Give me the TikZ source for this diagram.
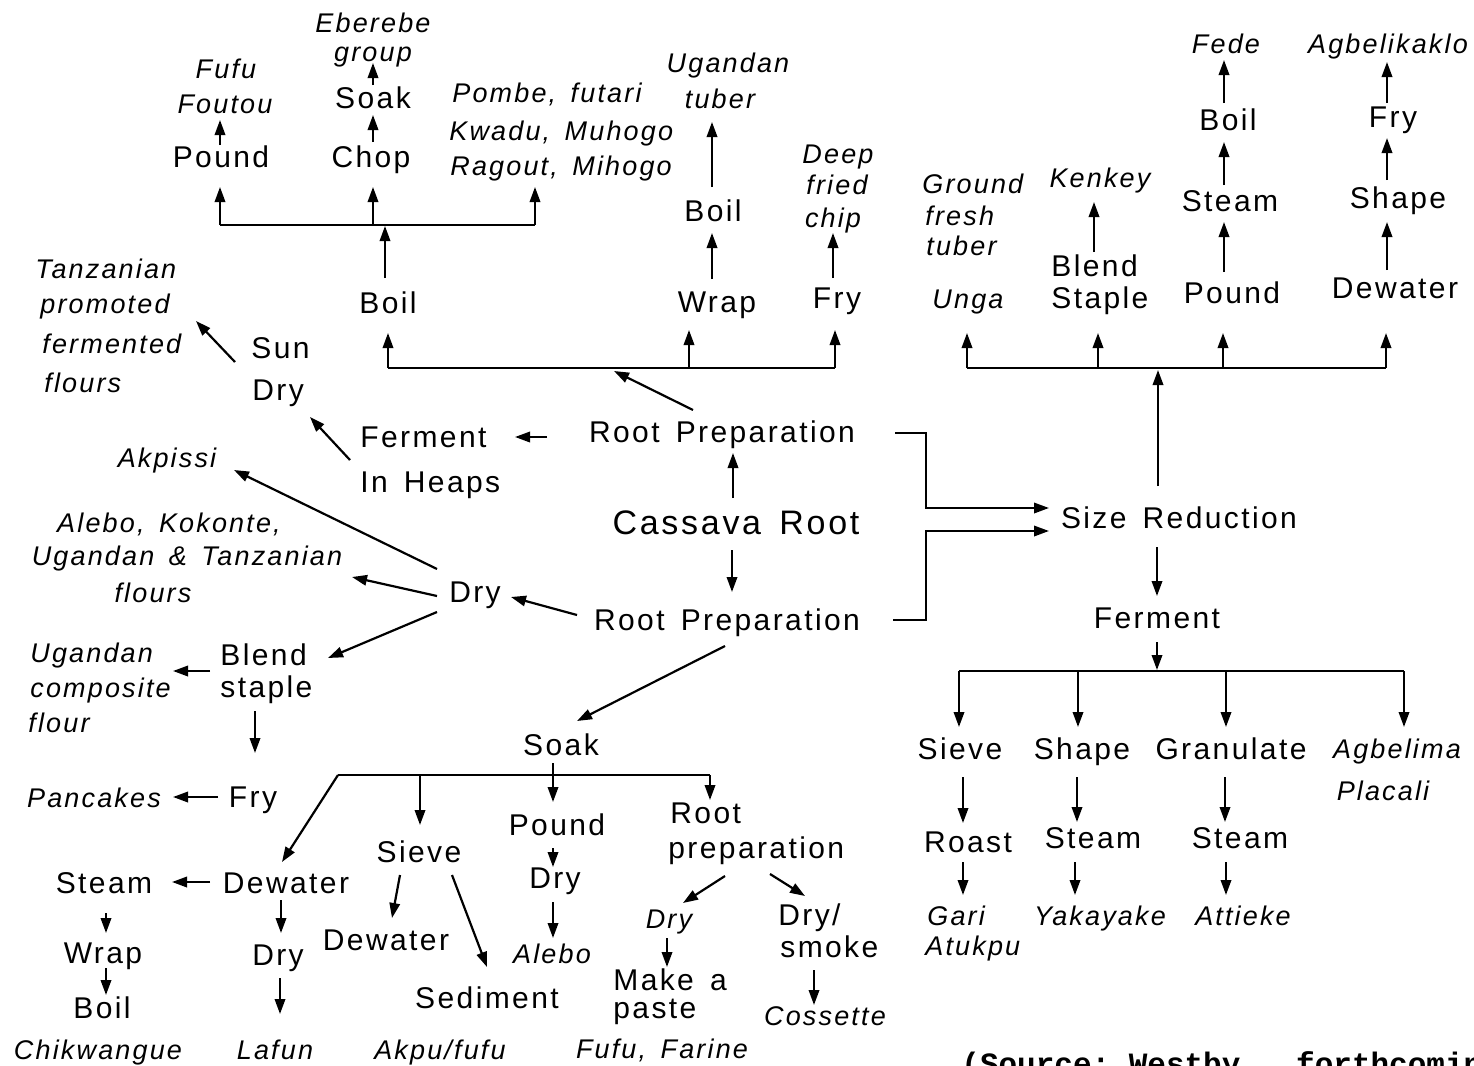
\documentclass[tikz,border=0pt]{standalone}
\usepackage{fontspec}
\setmainfont{Liberation Sans}[LetterSpace=8,WordSpace=1.5]
\newfontfamily\srcfont{Liberation Mono}
\usetikzlibrary{arrows.meta,calc}
\begin{document}
\begin{tikzpicture}[x=0.5pt,y=-0.5pt,
  up/.style={inner sep=0pt,anchor=base,font=\fontsize{15}{18}\selectfont},
  upl/.style={up,anchor=base west},
  itx/.style={inner sep=0pt,anchor=base,font=\fontsize{13.5}{16}\selectfont\itshape},
  itxl/.style={itx,anchor=base west},
  arr/.style={line width=1.1pt,-{Triangle[length=7.5pt,width=5.2pt]}},
  hbar/.style={line width=0.9pt}]
\fill[white] (0,0) rectangle (1474,1066);
\useasboundingbox (0,0) rectangle (1474,1066);

% ---------- top left ----------
\node[itx] (eb1) at (373,32) {Eberebe};
\node[itx] (eb2) at (373,61) {group};
\node[itx] (fufu1) at (226,78) {Fufu};
\node[itx] (fufu2) at (225,113) {Foutou};
\node[up] (soakT) at (373,108) {Soak};
\node[up] (chop) at (371,167) {Chop};
\node[up] (poundT) at (221,167) {Pound};
\node[itxl] (pombe1) at (452,102) {Pombe, futari};
\node[itxl] (pombe2) at (449,140) {Kwadu, Muhogo};
\node[itxl] (pombe3) at (450,175) {Ragout, Mihogo};
\node[up] (boilT) at (388,313) {Boil};
\node[itx] (ug1) at (728,72) {Ugandan};
\node[itx] (ug2) at (720,108) {tuber};
\node[up] (boilW) at (713,221) {Boil};
\node[up] (wrap) at (717,312) {Wrap};
\node[itx] (deep1) at (838,163) {Deep};
\node[itx] (deep2) at (837,194) {fried};
\node[itx] (deep3) at (833,227) {chip};
\node[up] (fryT) at (837,308) {Fry};

\draw[arr] ($(poundT.base)+(-1,-22)$) -- ($(fufu2.base)+(-5,7)$);
\draw[arr] ($(chop.base)+(2,-25)$) -- ($(soakT.base)+(0,7)$);
\draw[arr] ($(soakT.base)+(0,-23)$) -- ($(eb2.base)+(0,2)$);
\draw[hbar] ($(poundT.base)+(-1,58)$) -- ($(pombe3.base west)+(85,50)$);
\draw[arr] ($(poundT.base)+(-1,58)$) -- ($(poundT.base)+(-1,20)$);
\draw[arr] ($(chop.base)+(2,58)$) -- ($(chop.base)+(2,20)$);
\draw[arr] ($(pombe3.base west)+(85,50)$) -- ($(pombe3.base west)+(85,12)$);
\draw[arr] ($(boilT.base)+(-3,-35)$) -- ($(boilT.base)+(-3,-87)$);
\draw[hbar] ($(boilT.base)+(0,55)$) -- ($(fryT.base)+(-2,60)$);
\draw[arr] ($(boilT.base)+(0,55)$) -- ($(boilT.base)+(0,20)$);
\draw[arr] ($(wrap.base)+(-28,56)$) -- ($(wrap.base)+(-28,18)$);
\draw[arr] ($(fryT.base)+(-2,60)$) -- ($(fryT.base)+(-2,22)$);
\draw[arr] ($(boilW.base)+(-1,-34)$) -- ($(ug2.base)+(-8,14)$);
\draw[arr] ($(wrap.base)+(-5,-33)$) -- ($(boilW.base)+(-1,12)$);
\draw[arr] ($(fryT.base)+(-4,-30)$) -- ($(deep3.base)+(0,6)$);

% ---------- centre ----------
\node[up] (rpt) at (722,442) {Root Preparation};
\node[inner sep=0pt,anchor=base,font=\fontsize{17}{20}\selectfont] (cass) at (736,534) {Cassava Root};
\node[up] (rpb) at (727,630) {Root Preparation};
\draw[arr] ($(cass.base)+(-3,-36)$) -- ($(rpt.base)+(11,11)$);
\draw[arr] ($(cass.base)+(-4,16)$) -- ($(rpb.base)+(5,-38)$);
\draw[arr] ($(rpt.base)+(-29,-32)$) -- ($(rpt.base)+(-108,-71)$);

% ---------- left ----------
\node[itxl] (tz1) at (35,278) {Tanzanian};
\node[itxl] (tz2) at (40,313) {promoted};
\node[itxl] (tz3) at (42,353) {fermented};
\node[itxl] (tz4) at (44,392) {flours};
\node[upl] (sun) at (251,358) {Sun};
\node[upl] (sunDry) at (252,400) {Dry};
\node[upl] (ferm) at (360,447) {Ferment};
\node[upl] (heaps) at (360,492) {In Heaps};
\node[itx] (akp) at (167,467) {Akpissi};
\node[itx] (alebo1) at (169,532) {Alebo, Kokonte,};
\node[itx] (alebo2) at (187,565) {Ugandan \& Tanzanian};
\node[itx] (alebo3) at (153,602) {flours};
\node[up] (dryM) at (475,602) {Dry};
\node[upl] (blend) at (220,665) {Blend};
\node[upl] (staple) at (220,697) {staple};
\node[itxl] (ugc1) at (30,662) {Ugandan};
\node[itxl] (ugc2) at (30,697) {composite};
\node[itxl] (ugc3) at (28,732) {flour};
\node[up] (fryL) at (253,807) {Fry};
\node[itx] (panc) at (94,807) {Pancakes};

\draw[arr] ($(sun.base west)+(-16,4)$) -- ($(tz3.base west)+(154,-32)$);
\draw[arr] ($(ferm.base west)+(-10,13)$) -- ($(sunDry.base west)+(58,17)$);
\draw[arr] ($(rpt.base)+(-175,-5)$) -- ($(ferm.base west)+(155,-10)$);
\draw[arr] ($(dryM.base)+(-38,-33)$) -- ($(akp.base)+(67,3)$);
\draw[arr] ($(dryM.base)+(-38,-6)$) -- ($(alebo2.base)+(165,12)$);
\draw[arr] ($(dryM.base)+(-38,10)$) -- ($(blend.base west)+(108,-7)$);
\draw[arr] ($(rpb.base)+(-150,-15)$) -- ($(dryM.base)+(36,-5)$);
\draw[arr] ($(blend.base west)+(-10,6)$) -- ($(ugc2.base west)+(143,-26)$);
\draw[arr] ($(staple.base west)+(35,14)$) -- ($(fryL.base)+(2,-54)$);
\draw[arr] ($(fryL.base)+(-35,-10)$) -- ($(panc.base)+(79,-10)$);

% ---------- bottom ----------
\node[up] (soakB) at (561,755) {Soak};
\node[up] (sieveB) at (419,862) {Sieve};
\node[up] (dewA) at (286,893) {Dewater};
\node[up] (steamL) at (104,893) {Steam};
\node[up] (wrapL) at (103,963) {Wrap};
\node[up] (boilL) at (102,1018) {Boil};
\node[itx] (chik) at (98,1059) {Chikwangue};
\node[up] (dryL) at (278,965) {Dry};
\node[itx] (lafun) at (275,1059) {Lafun};
\node[up] (dewB) at (386,950) {Dewater};
\node[up] (sed) at (487,1008) {Sediment};
\node[itx] (akpu) at (440,1059) {Akpu/fufu};
\node[up] (poundB) at (557,835) {Pound};
\node[up] (dryB) at (555,888) {Dry};
\node[itx] (alebo) at (552,963) {Alebo};
\node[upl] (root1) at (670,823) {Root};
\node[upl] (root2) at (668,858) {preparation};
\node[itx] (dryI) at (669,928) {Dry};
\node[upl] (make1) at (613,990) {Make a};
\node[upl] (make2) at (613,1018) {paste};
\node[itx] (fufuF) at (662,1058) {Fufu, Farine};
\node[upl] (drys1) at (778,925) {Dry/};
\node[upl] (drys2) at (780,957) {smoke};
\node[itx] (coss) at (825,1025) {Cossette};

\draw[arr] ($(rpb.base)+(-2,16)$) -- ($(soakB.base)+(16,-34)$);
\draw[arr] ($(soakB.base)+(-8,8)$) -- ($(poundB.base)+(-4,-33)$);
\draw[hbar] ($(soakB.base)+(-223,20)$) -- ($(soakB.base)+(149,20)$);
\draw[arr] ($(soakB.base)+(149,20)$) -- ($(root1.base west)+(40,-23)$);
\draw[arr] ($(soakB.base)+(-141,20)$) -- ($(sieveB.base)+(1,-37)$);
\draw[arr] ($(soakB.base)+(-223,20)$) -- ($(dewA.base)+(-4,-31)$);
\draw[arr] ($(dewA.base)+(-76,-11)$) -- ($(steamL.base)+(68,-11)$);
\draw[arr] ($(steamL.base)+(2,20)$) -- ($(wrapL.base)+(3,-30)$);
\draw[arr] ($(wrapL.base)+(3,5)$) -- ($(boilL.base)+(4,-23)$);
\draw[arr] ($(dewA.base)+(-5,7)$) -- ($(dryL.base)+(3,-32)$);
\draw[arr] ($(dryL.base)+(2,13)$) -- ($(lafun.base)+(5,-45)$);
\draw[arr] ($(sieveB.base)+(-19,13)$) -- ($(dewB.base)+(6,-32)$);
\draw[arr] ($(sieveB.base)+(33,13)$) -- ($(sed.base)+(0,-41)$);
\draw[arr] ($(poundB.base)+(-4,13)$) -- ($(dryB.base)+(-2,-21)$);
\draw[arr] ($(dryB.base)+(-2,14)$) -- ($(alebo.base)+(1,-25)$);
\draw[arr] ($(root2.base west)+(57,18)$) -- ($(dryI.base)+(14,-25)$);
\draw[arr] ($(root2.base west)+(102,16)$) -- ($(drys1.base west)+(27,-29)$);
\draw[arr] ($(dryI.base)+(-2,10)$) -- ($(make1.base west)+(54,-23)$);
\draw[arr] ($(drys2.base west)+(34,13)$) -- ($(coss.base)+(-11,-20)$);

% ---------- right ----------
\node[up] (sizeR) at (1179,528) {Size Reduction};
\node[up] (fermR) at (1157,628) {Ferment};
\node[itx] (unga) at (968,308) {Unga};
\node[itxl] (gft1) at (922,193) {Ground};
\node[itxl] (gft2) at (925,225) {fresh};
\node[itxl] (gft3) at (926,255) {tuber};
\node[itx] (kenkey) at (1100,187) {Kenkey};
\node[upl] (blendR) at (1051,276) {Blend};
\node[upl] (stapleR) at (1051,308) {Staple};
\node[up] (poundR) at (1232,303) {Pound};
\node[up] (steamR) at (1230,211) {Steam};
\node[up] (boilR) at (1228,130) {Boil};
\node[itx] (fede) at (1226,53) {Fede};
\node[up] (dewR) at (1395,298) {Dewater};
\node[up] (shapeR) at (1398,208) {Shape};
\node[up] (fryR) at (1393,127) {Fry};
\node[itx] (agbk) at (1388,53) {Agbelikaklo};
\node[up] (sieveR) at (960,759) {Sieve};
\node[up] (shapeR2) at (1082,759) {Shape};
\node[up] (gran) at (1231,759) {Granulate};
\node[itx] (agbl) at (1397,758) {Agbelima};
\node[itx] (placali) at (1383,800) {Placali};
\node[up] (roast) at (968,852) {Roast};
\node[up] (steamR2) at (1093,848) {Steam};
\node[up] (steamR3) at (1240,848) {Steam};
\node[itxl] (gari) at (927,925) {Gari};
\node[itxl] (atukpu) at (925,955) {Atukpu};
\node[itx] (yaka) at (1100,925) {Yakayake};
\node[itx] (attieke) at (1243,925) {Attieke};

\draw[arr] ($(rpt.base)+(173,-9)$) -| ($(rpt.base)+(204,66)$) -- ($(sizeR.base)+(-130,-20)$);
\draw[arr] ($(rpb.base)+(166,-10)$) -| ($(rpb.base)+(199,-99)$) -- ($(sizeR.base)+(-130,3)$);
\draw[arr] ($(sizeR.base)+(-21,-42)$) -- ($(sizeR.base)+(-21,-158)$);
\draw[hbar] ($(unga.base)+(-1,60)$) -- ($(dewR.base)+(-9,70)$);
\draw[arr] ($(unga.base)+(-1,60)$) -- ($(unga.base)+(-1,25)$);
\draw[arr] ($(stapleR.base west)+(47,60)$) -- ($(stapleR.base west)+(47,25)$);
\draw[arr] ($(poundR.base)+(-9,65)$) -- ($(poundR.base)+(-9,30)$);
\draw[arr] ($(dewR.base)+(-9,70)$) -- ($(dewR.base)+(-9,35)$);
\draw[arr] ($(blendR.base west)+(43,-24)$) -- ($(kenkey.base)+(-6,15)$);
\draw[arr] ($(poundR.base)+(-8,-31)$) -- ($(steamR.base)+(-6,11)$);
\draw[arr] ($(steamR.base)+(-6,-26)$) -- ($(boilR.base)+(-4,12)$);
\draw[arr] ($(boilR.base)+(-4,-27)$) -- ($(fede.base)+(-2,7)$);
\draw[arr] ($(dewR.base)+(-8,-28)$) -- ($(shapeR.base)+(-11,14)$);
\draw[arr] ($(shapeR.base)+(-11,-28)$) -- ($(fryR.base)+(-6,11)$);
\draw[arr] ($(fryR.base)+(-6,-24)$) -- ($(agbk.base)+(-1,9)$);
\draw[arr] ($(sizeR.base)+(-22,19)$) -- ($(fermR.base)+(0,-32)$);
\draw[arr] ($(fermR.base)+(0,14)$) -- ($(fermR.base)+(0,42)$);
\draw[hbar] ($(sieveR.base)+(-1,-88)$) -- ($(agbl.base)+(7,-87)$);
\draw[arr] ($(sieveR.base)+(-1,-88)$) -- ($(sieveR.base)+(-1,-32)$);
\draw[arr] ($(shapeR2.base)+(-4,-88)$) -- ($(shapeR2.base)+(-4,-32)$);
\draw[arr] ($(gran.base)+(-5,-88)$) -- ($(gran.base)+(-5,-32)$);
\draw[arr] ($(agbl.base)+(7,-87)$) -- ($(agbl.base)+(7,-31)$);
\draw[arr] ($(sieveR.base)+(3,18)$) -- ($(roast.base)+(-5,-29)$);
\draw[arr] ($(shapeR2.base)+(-5,18)$) -- ($(steamR2.base)+(-16,-26)$);
\draw[arr] ($(gran.base)+(-6,18)$) -- ($(steamR3.base)+(-15,-26)$);
\draw[arr] ($(roast.base)+(-5,10)$) -- ($(gari.base west)+(36,-30)$);
\draw[arr] ($(steamR2.base)+(-18,14)$) -- ($(yaka.base)+(-25,-30)$);
\draw[arr] ($(steamR3.base)+(-14,14)$) -- ($(attieke.base)+(-17,-30)$);

% ---------- source line (cut by the page edge, as in the reference) ----------
\node[inner sep=0pt,anchor=base west,font=\srcfont\bfseries\fontsize{15.5}{18}\selectfont] (src) at (961,1074) {(Source:\ Westby,\ \ forthcoming)};
\end{tikzpicture}
\end{document}
